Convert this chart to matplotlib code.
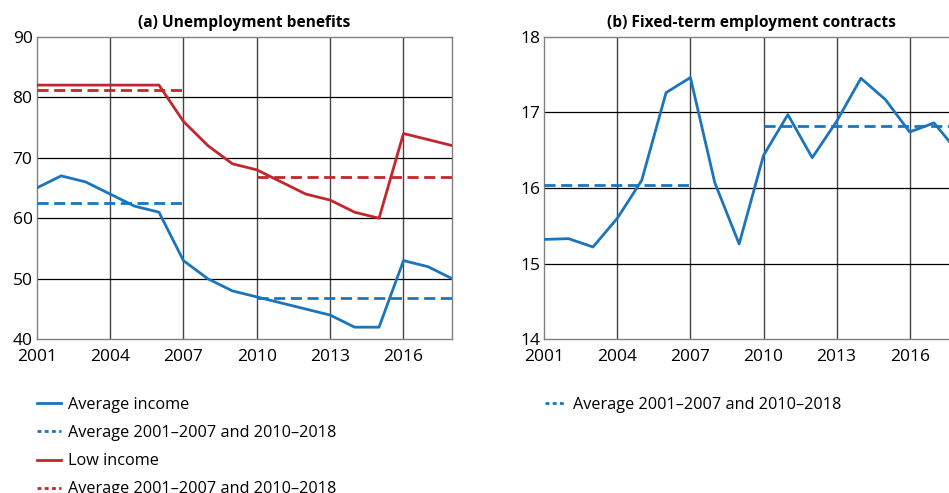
import numpy as np
import matplotlib.pyplot as plt

plt.rcParams['font.family'] = ['Open Sans', 'DejaVu Sans']

# Data
years = list(range(2001, 2019))
avg_income = [65, 67, 66, 64, 62, 61, 53, 50, 48, 47, 46, 45, 44, 42, 42, 53, 52, 50]
low_income = [82, 82, 82, 82, 82, 82, 76, 72, 69, 68, 66, 64, 63, 61, 60, 74, 73, 72]
fixed_term = [15.32, 15.33, 15.22, 15.60, 16.10, 17.26, 17.46, 16.07, 15.26,
              16.43, 16.97, 16.40, 16.88, 17.45, 17.17, 16.74, 16.86, 16.47]
periods = [(2001, 2007), (2010, 2018)]
xticks = [2001, 2004, 2007, 2010, 2013, 2016]

BLUE = '#1B75BC'
RED = '#C1272D'
LW = 2.0
avg_label = 'Average 2001\u20132007 and 2010\u20132018'


def period_means(ax, values, color):
    # dashed line over each period at the period mean
    y = np.array(years)
    v = np.array(values)
    for a, b in periods:
        m = v[(y >= a) & (y <= b)].mean()
        ax.plot([a, b], [m, m], color=color, lw=LW, dashes=(4, 2), zorder=3)


def style_axes(ax, ylim, yticks, title):
    ax.set_xlim(2001, 2018)
    ax.set_ylim(*ylim)
    ax.set_xticks(xticks)
    ax.set_yticks(yticks)
    ax.tick_params(length=0, labelsize=12.5)
    ax.tick_params(axis='x', pad=7)
    ax.tick_params(axis='y', pad=3)
    for x in xticks[1:]:
        ax.axvline(x, color='#444444', lw=1.0, zorder=1)
    for yv in yticks[1:-1]:
        ax.axhline(yv, color='black', lw=0.9, zorder=1)
    for s in ax.spines.values():
        s.set_color('#808080')
        s.set_linewidth(1.0)
    ax.set_title(title, fontsize=11.2, fontweight='bold', pad=7)


fig = plt.figure(figsize=(9.49, 4.93), dpi=100)
ax1 = fig.add_axes([0.0387, 0.3118, 0.4380, 0.6138])
ax2 = fig.add_axes([0.5735, 0.3118, 0.4364, 0.6138])

# (a)
style_axes(ax1, (40, 90), [40, 50, 60, 70, 80, 90], '(a) Unemployment benefits')
ax1.plot(years, avg_income, color=BLUE, lw=LW, zorder=4)
period_means(ax1, avg_income, BLUE)
ax1.plot(years, low_income, color=RED, lw=LW, zorder=4)
period_means(ax1, low_income, RED)

# (b)
style_axes(ax2, (14, 18), [14, 15, 16, 17, 18], '(b) Fixed-term employment contracts')
ax2.plot(years, fixed_term, color=BLUE, lw=LW, zorder=4)
period_means(ax2, fixed_term, BLUE)

# legends
h_avg, = ax1.plot([], [], color=BLUE, lw=LW)
h_avg_m, = ax1.plot([], [], color=BLUE, lw=LW, dashes=(1.4, 1.2))
h_low, = ax1.plot([], [], color=RED, lw=LW)
h_low_m, = ax1.plot([], [], color=RED, lw=LW, dashes=(1.4, 1.2))
fig.legend([h_avg, h_avg_m, h_low, h_low_m],
           ['Average income', avg_label, 'Low income', avg_label],
           loc='upper left', bbox_to_anchor=(0.039, 0.195), frameon=False,
           fontsize=11.7, handlelength=1.45, handletextpad=0.45, labelspacing=0.75,
           borderpad=0, borderaxespad=0)

h_b, = ax2.plot([], [], color=BLUE, lw=LW, dashes=(1.4, 1.2))
fig.legend([h_b], [avg_label], loc='upper left', bbox_to_anchor=(0.574, 0.195),
           frameon=False, fontsize=11.7, handlelength=1.3, handletextpad=0.45,
           borderpad=0, borderaxespad=0)

fig.savefig('out.png', dpi=100)
